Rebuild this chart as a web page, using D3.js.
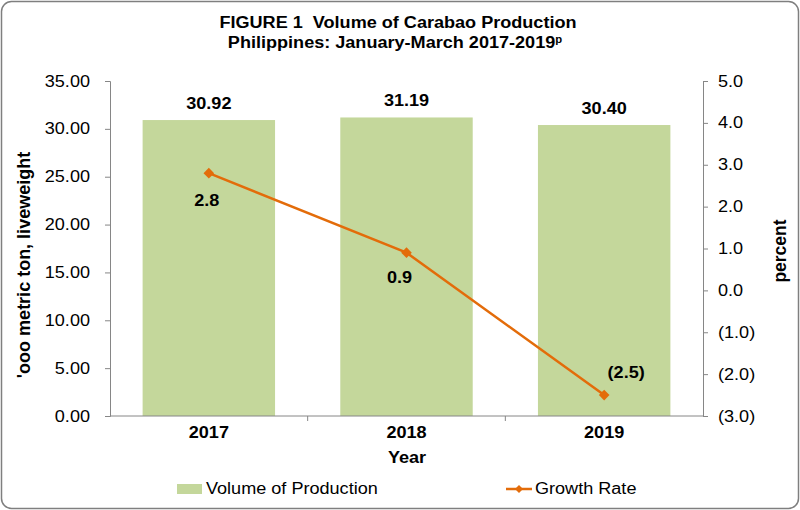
<!DOCTYPE html>
<html><head><meta charset="utf-8">
<script src="https://cdn.jsdelivr.net/npm/d3@7"></script>
<style>body{margin:0;background:#fff;} text{font-family:"Liberation Sans",Arial,sans-serif;white-space:pre;}</style>
</head><body>
<svg id="c" width="800" height="510"></svg>
<script>
const years = ["2017","2018","2019"];
const volume = [30.92, 31.19, 30.40];
const growth = [2.8, 0.9, -2.5];
const volumeLabels = ["30.92","31.19","30.40"];
const growthLabels = ["2.8","0.9","(2.5)"];
const leftTicks = [0,5,10,15,20,25,30,35];
const rightTicks = [5,4,3,2,1,0,-1,-2,-3];

const svg = d3.select("#c");
const L = 110, R = 703, T = 81, B = 416;
const SX = 1.13;
const barColor = "#c4d79b", lineColor = "#e36c0a", axisColor = "#868686";

function txt(x, y, s, o = {}) {
  return svg.append("text")
    .attr("transform", `translate(${x},${y}) scale(${SX},1)`)
    .attr("text-anchor", o.anchor || "start")
    .attr("font-size", o.size || 16)
    .attr("font-weight", o.weight || "normal")
    .attr("fill", "#000")
    .text(s);
}

svg.append("rect").attr("x",1.5).attr("y",1.5).attr("width",797).attr("height",507)
  .attr("rx",10).attr("fill","#fff").attr("stroke","#7f7f7f").attr("stroke-width",1.5);

const x = d3.scaleBand().domain(years).range([L,R]).paddingInner(0.33).paddingOuter(0.165);
const xc = d3.scalePoint().domain(years).range([L,R]).padding(0.5);
const y = d3.scaleLinear().domain([0,35]).range([B,T]);
const y2 = d3.scaleLinear().domain([-3,5]).range([B,T]);

// title
txt(398, 28, "FIGURE 1  Volume of Carabao Production", {anchor:"middle", weight:"bold"});
const t2 = txt(395, 48, "", {anchor:"middle", weight:"bold"});
t2.append("tspan").text("Philippines: January-March 2017-2019");
t2.append("tspan").attr("font-size",10).attr("dy",-5).text("p");

// bars
svg.selectAll(".bar").data(years).enter().append("rect")
  .attr("x",d=>x(d)).attr("width",x.bandwidth())
  .attr("y",(d,i)=>y(volume[i])).attr("height",(d,i)=>B-y(volume[i]))
  .attr("fill",barColor);
years.forEach((d,i)=> txt(xc(d), y(volume[i])-11, volumeLabels[i], {anchor:"middle", weight:"bold"}));

// left axis
const ga = svg.append("g").attr("transform",`translate(${L},0)`)
  .call(d3.axisLeft(y).tickValues(leftTicks).tickSize(5).tickFormat(""));
ga.select(".domain").attr("stroke",axisColor);
ga.selectAll(".tick line").attr("stroke",axisColor);
leftTicks.forEach(v => txt(90, y(v)+5.5, d3.format(".2f")(v), {anchor:"end"}));

// right axis
const gr = svg.append("g").attr("transform",`translate(${R},0)`)
  .call(d3.axisRight(y2).tickValues(rightTicks).tickSize(5).tickFormat(""));
gr.select(".domain").attr("stroke",axisColor);
gr.selectAll(".tick line").attr("stroke",axisColor);
const rfmt = d => d<0 ? "("+Math.abs(d).toFixed(1)+")" : d.toFixed(1);
rightTicks.forEach(v => txt(718, y2(v)+5.5, rfmt(v)));

// x axis
svg.append("line").attr("x1",L).attr("x2",R).attr("y1",B).attr("y2",B).attr("stroke",axisColor);
const bounds = years.slice(1).map(d=>x(d)-x.step()*x.paddingInner()/2);
svg.selectAll(".xt").data(bounds).enter().append("line")
  .attr("x1",d=>d).attr("x2",d=>d).attr("y1",B).attr("y2",B+5).attr("stroke",axisColor);
years.forEach(d => txt(xc(d), 438, d, {anchor:"middle", weight:"bold"}));
txt(407, 463, "Year", {anchor:"middle", weight:"bold"});

// axis titles
svg.append("text").attr("transform","translate(30,265) rotate(-90)").attr("text-anchor","middle")
  .attr("font-size",18).attr("font-weight","bold").text("'ooo metric ton, liveweight");
svg.append("text").attr("transform","translate(786,251) rotate(-90)").attr("text-anchor","middle")
  .attr("font-size",17.5).attr("font-weight","bold").text("percent");

// line
const line = d3.line().x((d,i)=>xc(years[i])).y(d=>y2(d));
svg.append("path").datum(growth).attr("d",line).attr("fill","none")
  .attr("stroke",lineColor).attr("stroke-width",2.5);
const diamond = d3.symbol().type(d3.symbolDiamond2).size(72);
svg.selectAll(".pt").data(growth).enter().append("path")
  .attr("d",diamond).attr("transform",(d,i)=>`translate(${xc(years[i])},${y2(d)})`)
  .attr("fill",lineColor);
const gOff = [[-2,33],[-7,30],[22,-17]];
growth.forEach((d,i)=> txt(xc(years[i])+gOff[i][0], y2(d)+gOff[i][1], growthLabels[i], {anchor:"middle", weight:"bold"}));

// legend
svg.append("rect").attr("x",177).attr("y",484).attr("width",25).attr("height",10).attr("fill",barColor);
txt(206, 494, "Volume of Production");
svg.append("line").attr("x1",506).attr("x2",532).attr("y1",489).attr("y2",489).attr("stroke",lineColor).attr("stroke-width",2.5);
svg.append("path").attr("d",d3.symbol().type(d3.symbolDiamond2).size(42)).attr("transform","translate(519,489)").attr("fill",lineColor);
txt(535, 494, "Growth Rate");
</script>
</body></html>
